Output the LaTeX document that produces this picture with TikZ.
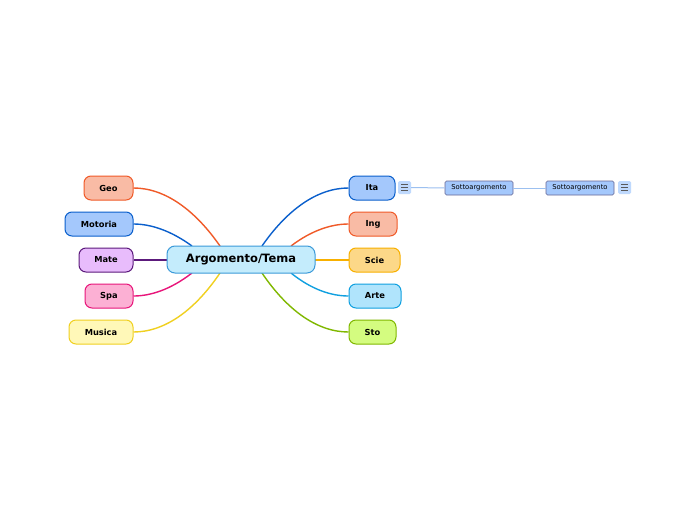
\documentclass[tikz,border=0pt]{standalone}
\usepackage{fontspec}
\setmainfont{DejaVu Sans}
\begin{document}
\begin{tikzpicture}[x=1pt,y=-1pt,
  leaf/.style={draw, line width=1pt, rounded corners=7pt, minimum height=24pt, inner sep=0pt, font=\fontsize{8.3}{9}\selectfont\bfseries},
  sub/.style={draw=black!70!blue!60, fill=sblue, line width=0.6pt, rounded corners=1.5pt, minimum height=14pt, minimum width=68pt, inner sep=0pt, font=\fontsize{6.8}{7}\selectfont},
  icon/.style={fill=sblue!70, rounded corners=1.5pt, minimum width=13pt, minimum height=13pt, inner sep=0pt},
  conn/.style={line width=1.4pt},
]
\definecolor{cOr}{HTML}{F05A28}\definecolor{fOr}{HTML}{F9BBA5}
\definecolor{cBl}{HTML}{0A5FCC}\definecolor{fBl}{HTML}{A4C8FC}
\definecolor{cPu}{HTML}{5C1A7C}\definecolor{fPu}{HTML}{E8BCFC}
\definecolor{cPk}{HTML}{E8157A}\definecolor{fPk}{HTML}{FCB0D4}
\definecolor{cYe}{HTML}{F0D020}\definecolor{fYe}{HTML}{FFF8B8}
\definecolor{cAm}{HTML}{F8B000}\definecolor{fAm}{HTML}{FCD888}
\definecolor{cCy}{HTML}{10A0E0}\definecolor{fCy}{HTML}{B0E4FC}
\definecolor{cGr}{HTML}{80B800}\definecolor{fGr}{HTML}{D4FC80}
\definecolor{cCe}{HTML}{3B9AD9}\definecolor{fCe}{HTML}{C4ECFC}
\definecolor{sblue}{HTML}{A4C8FC}
\definecolor{sline}{HTML}{9CC0F0}
\useasboundingbox (0,0) rectangle (697,520);
\fill[white] (0,0) rectangle (697,520);

\coordinate (cl1) at (220,246);
\coordinate (cl2) at (192,246);
\coordinate (cl4) at (192,273);
\coordinate (cl5) at (220,273);
\coordinate (cr1) at (262,246);
\coordinate (cr2) at (291,246);
\coordinate (cr4) at (291,273);
\coordinate (cr5) at (262,273);
\coordinate (cw) at (175,260);
\coordinate (ce) at (307,260);

\node[leaf, draw=cOr, fill=fOr, minimum width=49pt] (geo) at (108.5,188) {Geo};
\node[leaf, draw=cBl, fill=fBl, minimum width=68pt] (mot) at (99,224) {Motoria};
\node[leaf, draw=cPu, fill=fPu, minimum width=54pt] (mate) at (106,260) {Mate};
\node[leaf, draw=cPk, fill=fPk, minimum width=48pt] (spa) at (109,296) {Spa};
\node[leaf, draw=cYe, fill=fYe, minimum width=64pt] (mus) at (101,332) {Musica};

\node[leaf, draw=cBl, fill=fBl, minimum width=46pt] (ita) at (372,188) {Ita};
\node[leaf, draw=cOr, fill=fOr, minimum width=48pt] (ing) at (373,224) {Ing};
\node[leaf, draw=cAm, fill=fAm, minimum width=51pt] (scie) at (374.5,260) {Scie};
\node[leaf, draw=cCy, fill=fCy, minimum width=52pt] (arte) at (375,296) {Arte};
\node[leaf, draw=cGr, fill=fGr, minimum width=47pt] (sto) at (372.5,332) {Sto};

\draw[conn, cOr] (cl1) .. controls (195,210) and (165,188) .. (geo.east);
\draw[conn, cBl] (cl2) .. controls (170,230) and (150,224) .. (mot.east);
\draw[conn, cPu] (cw) -- (mate.east);
\draw[conn, cPk] (cl4) .. controls (170,290) and (150,296) .. (spa.east);
\draw[conn, cYe] (cl5) .. controls (195,310) and (165,332) .. (mus.east);

\draw[conn, cBl] (cr1) .. controls (287,210) and (317,188) .. (ita.west);
\draw[conn, cOr] (cr2) .. controls (312,230) and (332,224) .. (ing.west);
\draw[conn, cAm] (ce) -- (scie.west);
\draw[conn, cCy] (cr4) .. controls (312,290) and (332,296) .. (arte.west);
\draw[conn, cGr] (cr5) .. controls (287,310) and (317,332) .. (sto.west);

\node[draw=cCe, fill=fCe, line width=1pt, rounded corners=8pt, minimum width=148pt, minimum height=27pt, inner sep=0pt, font=\fontsize{11.5}{12}\selectfont\bfseries] (c) at (241,259.5) {Argomento/Tema};

\node[icon] (i1) at (404.5,187.5) {};
\node[sub] (s1) at (479,188) {Sottoargomento};
\node[sub] (s2) at (580,188) {Sottoargomento};
\node[icon] (i2) at (624.5,187.5) {};
\foreach \n in {i1,i2}{
  \draw[black!65, line width=0.9pt] ([xshift=-3.5pt,yshift=-3pt]\n.center) -- ([xshift=3.5pt,yshift=-3pt]\n.center)
    ([xshift=-3.5pt]\n.center) -- ([xshift=3.5pt]\n.center)
    ([xshift=-3.5pt,yshift=3pt]\n.center) -- ([xshift=3.5pt,yshift=3pt]\n.center);
}
\draw[sline, line width=1pt] (i1.east) -- (s1.west);
\draw[sline, line width=1pt] (s1.east) -- (s2.west);
\end{tikzpicture}
\end{document}
